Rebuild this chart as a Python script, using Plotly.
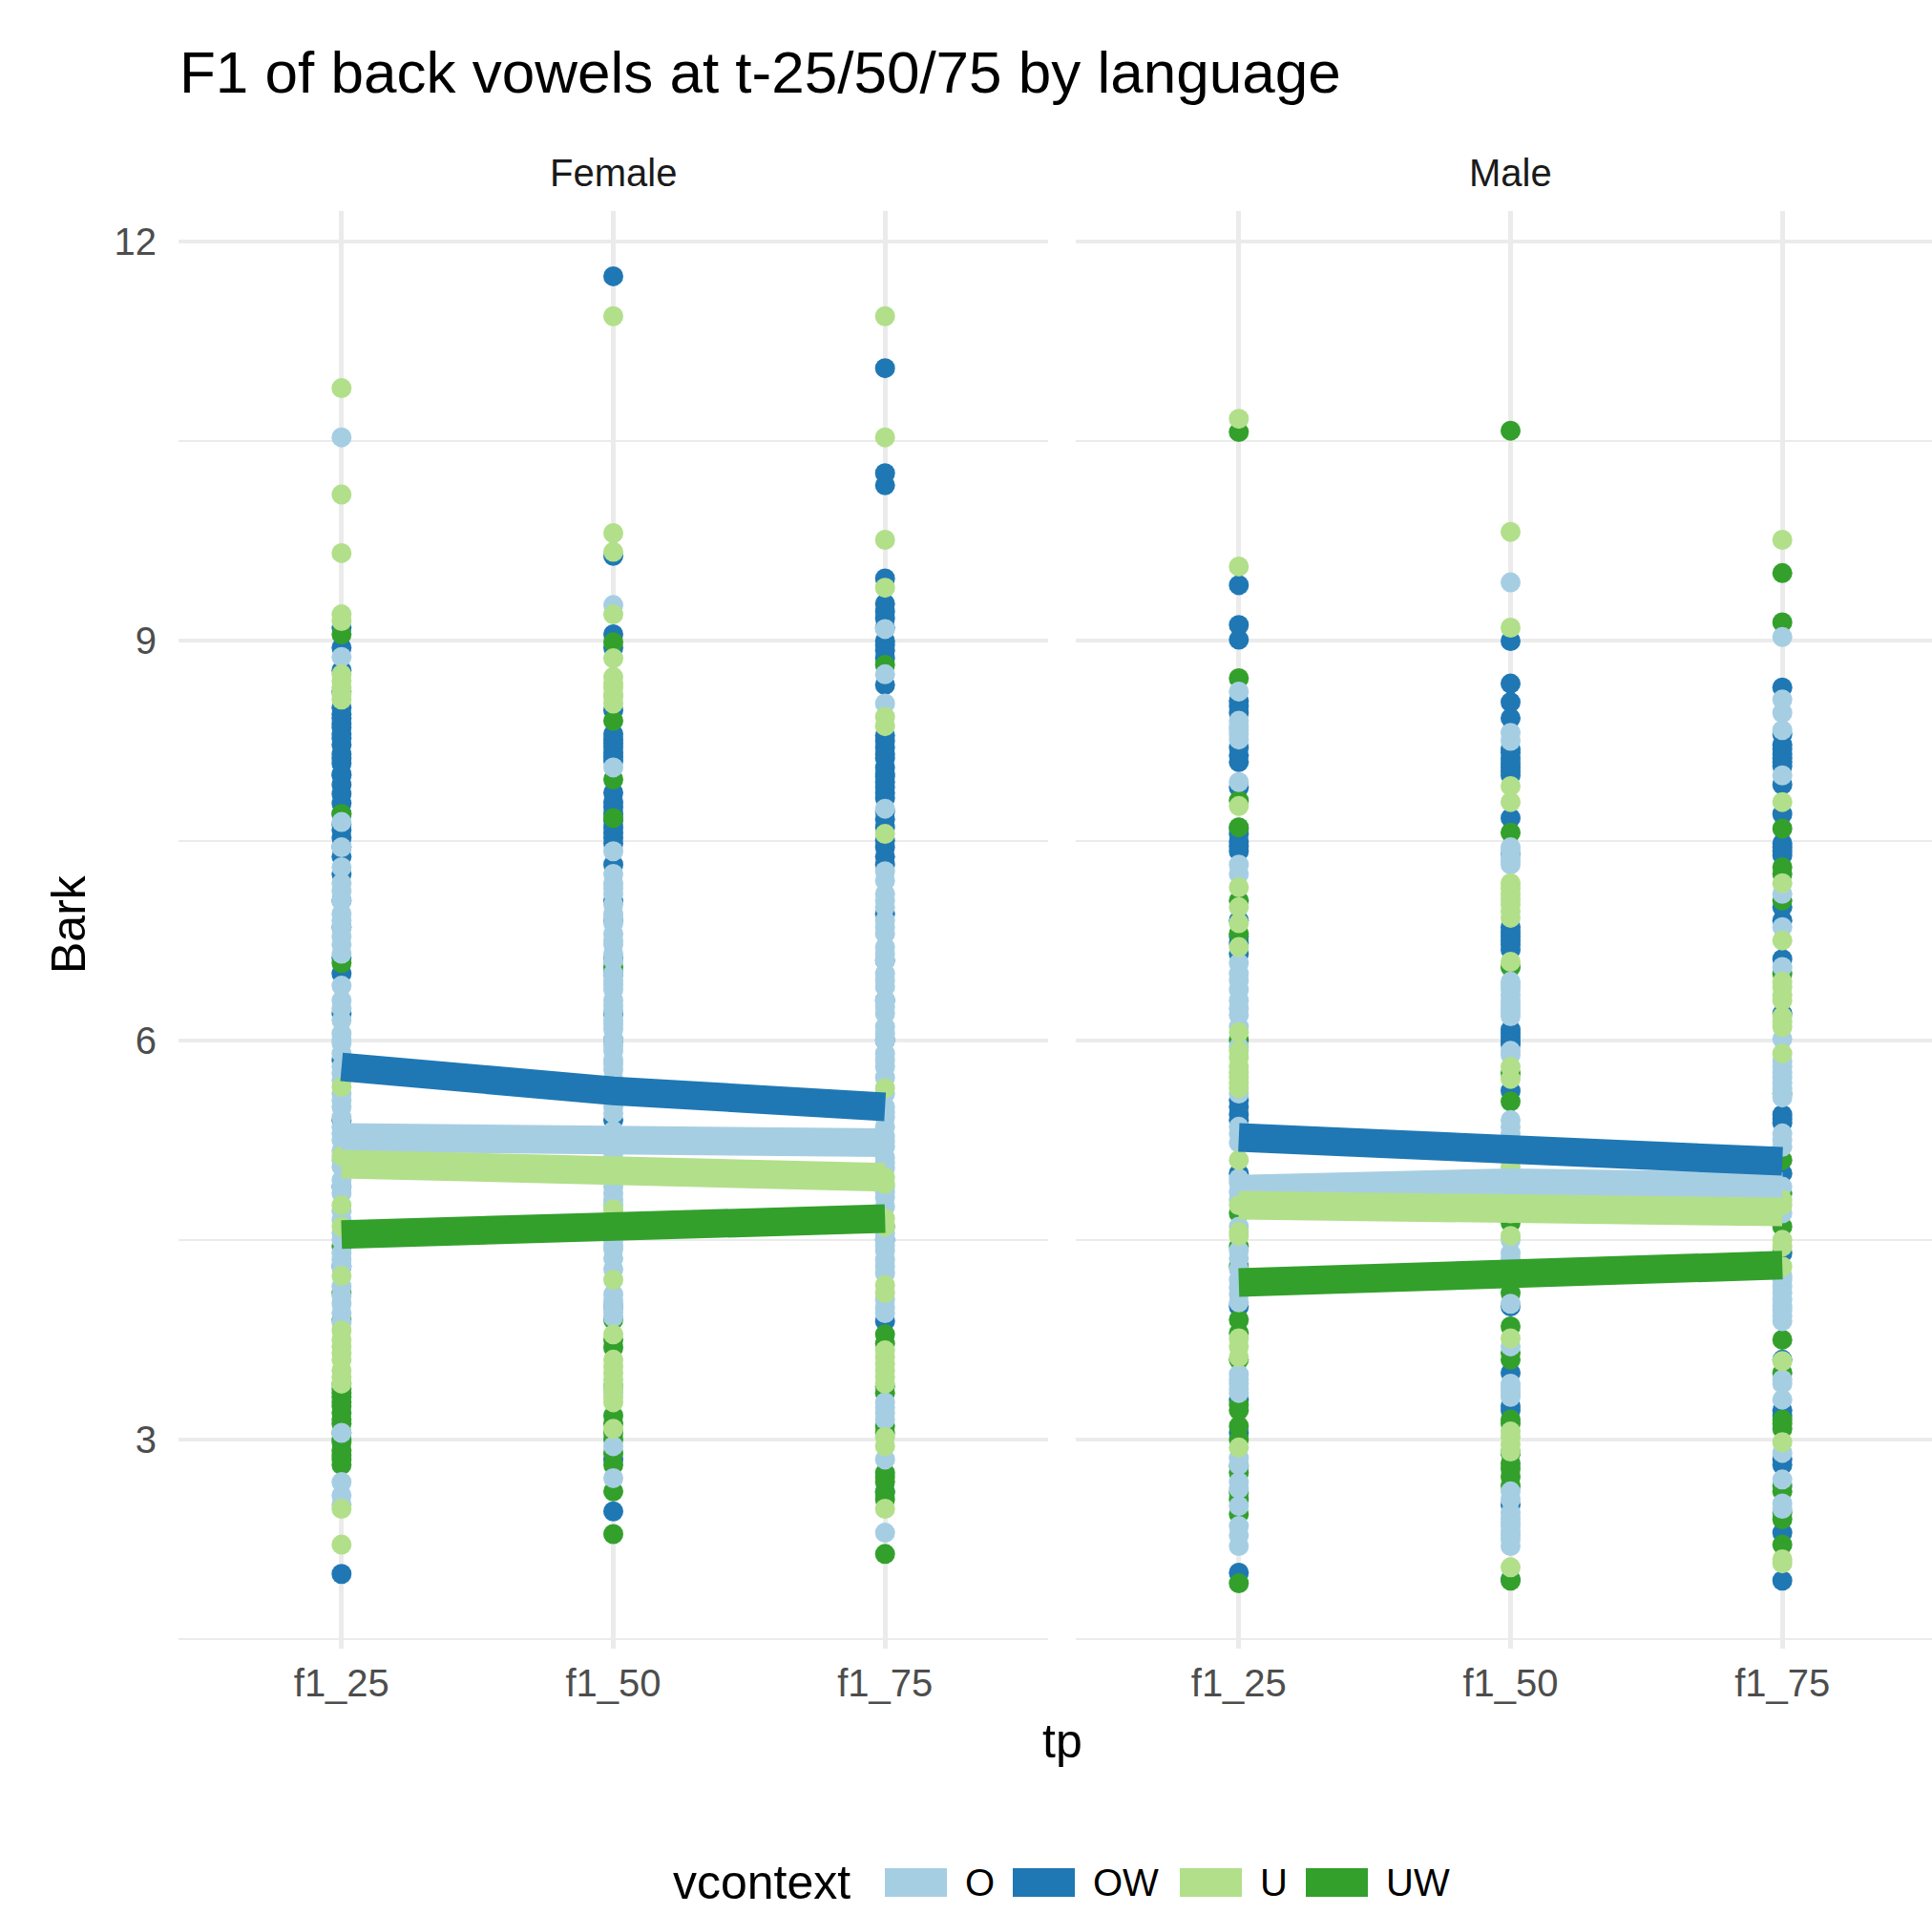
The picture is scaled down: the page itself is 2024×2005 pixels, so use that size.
import plotly.graph_objects as go

# ---------------- data ----------------
tp_labels = ["f1_25", "f1_50", "f1_75"]
vcontext_levels = ["O", "OW", "U", "UW"]
panel_names = ["Female", "Male"]
palette = ["#A6CEE3", "#1F78B4", "#B2DF8A", "#33A02C"]

# Female, f1_25
female_f1_25_O = [10.53, 8.88, 7.64, 7.45, 7.30, 7.18, 7.12, 7.05, 6.95, 6.90, 6.85, 6.78, 6.72, 6.65, 6.41, 6.30,
                  6.24, 6.15, 6.05, 6.00, 5.98, 5.90, 5.80, 5.75, 5.70, 5.60, 5.55, 5.50, 5.42, 5.35, 5.30, 5.25,
                  5.17, 5.10, 5.05, 4.95, 4.90, 4.85, 4.72, 4.65, 4.55, 4.50, 4.40, 4.35, 4.30, 4.15, 4.08, 4.02,
                  3.95, 3.88, 3.05, 2.68, 2.58, 2.51]
female_f1_25_OW = [1.99, 4.30, 4.90, 5.40, 5.85, 6.20, 6.50, 6.62, 6.85, 7.05, 7.25, 7.38, 7.45, 7.52, 7.58, 7.62,
                   7.70, 7.78, 7.85, 7.92, 7.99, 8.00, 8.08, 8.12, 8.15, 8.22, 8.27, 8.30, 8.35, 8.38, 8.42, 8.45,
                   8.50, 8.62, 8.78, 8.95, 9.10]
female_f1_25_U = [10.90, 10.10, 9.66, 9.20, 9.15, 8.75, 8.70, 8.65, 8.60, 8.56, 5.65, 5.13, 4.76, 4.60, 4.23, 3.82,
                  3.75, 3.70, 3.65, 3.60, 3.52, 3.47, 3.42, 2.48, 2.21]
female_f1_25_UW = [9.05, 7.70, 6.58, 4.45, 4.10, 3.90, 3.42, 3.38, 3.35, 3.32, 3.28, 3.25, 3.20, 3.15, 3.12, 3.05,
                   3.00, 2.98, 2.92, 2.88, 2.85, 2.81]

# Female, f1_50
female_f1_50_O = [9.27, 8.05, 7.42, 7.25, 7.18, 7.14, 7.10, 7.02, 6.95, 6.92, 6.88, 6.80, 6.75, 6.72, 6.65, 6.60,
                  6.50, 6.45, 6.42, 6.38, 6.30, 6.26, 6.22, 6.15, 6.12, 6.08, 6.00, 5.96, 5.92, 5.85, 5.82, 5.78,
                  5.70, 5.66, 5.62, 5.55, 5.50, 5.45, 5.32, 5.23, 5.15, 5.10, 5.05, 5.00, 4.95, 4.90, 4.85, 4.80,
                  4.76, 4.50, 4.46, 4.43, 4.36, 4.28, 4.09, 4.04, 4.00, 3.96, 3.92, 3.35, 2.95, 2.71]
female_f1_50_OW = [11.74, 9.64, 9.05, 8.95, 8.48, 8.30, 8.26, 8.23, 8.20, 8.16, 8.13, 8.10, 7.86, 7.79, 7.75, 7.70,
                   7.65, 7.60, 7.56, 7.52, 7.48, 7.32, 7.05, 6.90, 6.61, 6.50, 6.20, 6.00, 5.70, 5.40, 4.60, 4.00,
                   3.40, 2.85, 2.46]
female_f1_50_U = [11.44, 9.81, 9.67, 9.20, 8.87, 8.73, 8.68, 8.65, 8.60, 8.58, 8.53, 4.73, 4.20, 3.79, 3.60, 3.55,
                  3.50, 3.45, 3.40, 3.37, 3.32, 3.28, 3.08]
female_f1_50_UW = [8.99, 8.40, 7.96, 7.67, 6.55, 4.65, 4.55, 3.90, 3.75, 3.69, 3.18, 3.12, 3.05, 3.00, 2.90, 2.81,
                   2.61, 2.29]

# Female, f1_75
female_f1_75_O = [9.09, 8.75, 8.53, 7.74, 7.27, 7.20, 7.10, 7.05, 7.00, 6.90, 6.85, 6.80, 6.70, 6.65, 6.60, 6.50,
                  6.45, 6.40, 6.30, 6.25, 6.20, 6.10, 6.05, 6.00, 5.90, 5.85, 5.80, 5.72, 5.60, 5.50, 5.46, 5.42,
                  5.35, 5.28, 5.24, 5.20, 5.12, 5.08, 5.04, 4.90, 4.86, 4.82, 4.75, 4.55, 4.50, 4.46, 4.42, 4.35,
                  4.30, 4.25, 4.05, 3.99, 3.95, 3.28, 3.24, 3.20, 3.15, 2.85, 2.30]
female_f1_75_OW = [11.05, 10.26, 10.17, 9.47, 9.28, 9.22, 9.17, 9.10, 9.00, 8.97, 8.93, 8.87, 8.67, 8.29, 8.25, 8.20,
                   8.15, 8.12, 8.05, 8.00, 7.98, 7.94, 7.90, 7.86, 7.82, 7.72, 7.66, 7.60, 7.50, 7.45, 7.38, 7.32,
                   6.95, 6.60, 6.30, 6.00, 4.50, 3.89, 2.61]
female_f1_75_U = [11.44, 10.53, 9.76, 9.40, 8.43, 8.36, 7.55, 5.64, 4.97, 4.92, 4.66, 4.60, 4.16, 4.10, 3.67, 3.62,
                  3.57, 3.52, 3.47, 3.42, 3.02, 2.95, 2.48]
female_f1_75_UW = [8.82, 4.60, 3.79, 3.72, 3.40, 3.35, 3.10, 3.05, 2.75, 2.72, 2.68, 2.60, 2.55, 2.14]

# Male, f1_25
male_f1_25_O = [8.62, 8.40, 8.36, 8.33, 8.30, 8.26, 7.94, 7.32, 7.25, 6.58, 6.50, 6.45, 6.38, 6.30, 6.24, 6.19,
                6.10, 5.95, 5.60, 5.35, 5.30, 5.23, 4.96, 4.93, 4.86, 4.80, 4.60, 4.42, 4.36, 4.28, 4.20, 4.14,
                4.09, 4.03, 3.49, 3.45, 3.42, 3.38, 3.35, 2.86, 2.81, 2.68, 2.63, 2.50, 2.35, 2.28, 2.20]
male_f1_25_OW = [9.42, 9.12, 9.01, 8.55, 8.51, 8.46, 8.20, 8.14, 8.09, 7.90, 7.59, 7.55, 7.49, 7.46, 7.42, 6.90,
                 6.78, 6.73, 6.65, 5.55, 5.50, 5.44, 5.40, 5.00, 4.00, 3.30, 3.05, 2.00]
male_f1_25_U = [10.67, 9.56, 7.76, 7.15, 7.00, 6.88, 6.70, 6.06, 5.92, 5.87, 5.80, 5.76, 5.72, 5.68, 5.64, 5.10,
                4.76, 4.56, 4.53, 3.76, 3.70, 3.62, 2.94]
male_f1_25_UW = [10.57, 8.72, 7.80, 7.60, 7.05, 6.80, 6.00, 4.70, 4.45, 4.30, 3.90, 3.80, 3.60, 3.26, 3.22, 3.10,
                 3.00, 2.80, 2.75, 2.60, 2.55, 2.44, 1.92]

# Male, f1_50
male_f1_50_O = [9.44, 8.31, 8.25, 7.45, 7.42, 7.38, 7.35, 7.32, 6.44, 6.41, 6.38, 6.34, 6.30, 6.27, 6.24, 6.21,
                6.18, 5.92, 5.89, 5.40, 5.35, 5.30, 5.25, 5.15, 4.90, 4.50, 4.40, 4.36, 4.28, 4.02, 3.70, 3.42,
                3.40, 3.37, 3.34, 3.32, 2.61, 2.55, 2.45, 2.41, 2.38, 2.35, 2.31, 2.28, 2.25, 2.20]
male_f1_50_OW = [9.00, 8.68, 8.54, 8.42, 8.19, 8.16, 8.12, 8.08, 8.05, 8.02, 7.99, 7.67, 7.40, 6.85, 6.81, 6.78,
                 6.75, 6.72, 6.68, 6.08, 6.05, 6.02, 5.99, 5.97, 5.62, 5.20, 4.80, 4.20, 4.00, 3.50, 3.25, 3.22,
                 2.90, 2.51, 1.95]
male_f1_50_U = [9.82, 9.10, 7.91, 7.79, 7.18, 7.14, 7.10, 7.06, 7.02, 6.97, 6.92, 6.59, 5.80, 5.71, 5.10, 5.05,
                4.70, 4.53, 3.76, 3.06, 3.02, 2.96, 2.91, 2.04]
male_f1_50_UW = [10.58, 7.56, 6.55, 5.75, 5.54, 5.00, 4.75, 4.63, 4.10, 3.85, 3.65, 3.60, 3.15, 3.12, 2.90, 2.82,
                 2.78, 2.72, 2.65, 1.94]

# Male, f1_75
male_f1_75_O = [9.03, 8.56, 8.46, 8.33, 7.99, 7.10, 6.85, 6.55, 6.01, 5.84, 5.80, 5.76, 5.72, 5.68, 5.64, 5.60,
                5.57, 5.30, 5.25, 5.20, 4.90, 4.70, 4.23, 4.20, 4.15, 4.10, 4.05, 4.00, 3.97, 3.93, 3.89, 3.45,
                3.42, 3.30, 2.90, 2.70, 2.52, 2.48]
male_f1_75_OW = [8.65, 8.30, 8.22, 8.19, 8.15, 8.12, 8.09, 8.06, 7.92, 7.70, 7.48, 7.45, 7.42, 7.39, 7.00, 6.90,
                 6.61, 6.20, 5.44, 5.41, 5.38, 5.00, 4.40, 3.60, 3.22, 3.18, 2.85, 2.81, 2.30, 1.94]
male_f1_75_U = [9.76, 7.79, 7.18, 6.75, 6.44, 6.40, 6.34, 6.30, 6.18, 6.14, 6.10, 5.90, 4.80, 4.76, 4.50, 4.45,
                4.30, 3.59, 2.98, 2.10, 2.07]
male_f1_75_UW = [9.51, 9.14, 7.59, 7.30, 7.25, 7.05, 6.50, 5.60, 5.10, 4.85, 4.60, 3.75, 3.50, 3.15, 3.12, 3.08,
                 2.65, 2.61, 2.45, 2.40, 2.21]

# mean lines (Bark) per vcontext across f1_25 / f1_50 / f1_75
female_mean_O = [5.27, 5.25, 5.23]
female_mean_OW = [5.80, 5.62, 5.50]
female_mean_U = [5.07, 5.02, 4.97]
female_mean_UW = [4.54, 4.58, 4.66]
male_mean_O = [4.88, 4.93, 4.90]
male_mean_OW = [5.27, 5.20, 5.09]
male_mean_U = [4.76, 4.76, 4.71]
male_mean_UW = [4.18, 4.23, 4.31]

points = {
    "Female": {
        "f1_25": {"O": female_f1_25_O, "OW": female_f1_25_OW, "U": female_f1_25_U, "UW": female_f1_25_UW},
        "f1_50": {"O": female_f1_50_O, "OW": female_f1_50_OW, "U": female_f1_50_U, "UW": female_f1_50_UW},
        "f1_75": {"O": female_f1_75_O, "OW": female_f1_75_OW, "U": female_f1_75_U, "UW": female_f1_75_UW},
    },
    "Male": {
        "f1_25": {"O": male_f1_25_O, "OW": male_f1_25_OW, "U": male_f1_25_U, "UW": male_f1_25_UW},
        "f1_50": {"O": male_f1_50_O, "OW": male_f1_50_OW, "U": male_f1_50_U, "UW": male_f1_50_UW},
        "f1_75": {"O": male_f1_75_O, "OW": male_f1_75_OW, "U": male_f1_75_U, "UW": male_f1_75_UW},
    },
}
means = {
    "Female": {"O": female_mean_O, "OW": female_mean_OW, "U": female_mean_U, "UW": female_mean_UW},
    "Male": {"O": male_mean_O, "OW": male_mean_OW, "U": male_mean_U, "UW": male_mean_UW},
}
color_of = dict(zip(vcontext_levels, palette))

# ---------------- layout constants ----------------
W, H = 2024, 2005
ML, MR, MT, MB = 187, 0, 221, 278
PW, PH = W - ML - MR, H - MT - MB
FONT = "Liberation Sans, Arial, Helvetica, sans-serif"
GRID = "#EBEBEB"
TICKC = "#4D4D4D"
POINT_SIZE = 21
LINE_W = 30


def px2x(px):
    return (px - ML) / PW


def py2y(py):
    return (H - MB - py) / PH


fig = go.Figure()
axes = [("x", "y"), ("x2", "y2")]
draw_order = ["OW", "UW", "O", "U"]

for (xa, ya), panel in zip(axes, panel_names):
    for vc in draw_order:
        xs, ys = [], []
        for tp in tp_labels:
            vals = points[panel][tp][vc]
            xs += [tp] * len(vals)
            ys += vals
        fig.add_trace(go.Scatter(
            x=xs, y=ys, mode="markers", xaxis=xa, yaxis=ya, showlegend=False,
            name=vc, marker=dict(size=POINT_SIZE, color=color_of[vc], line=dict(width=0)),
            hoverinfo="skip"))
    for vc in vcontext_levels:
        fig.add_trace(go.Scatter(
            x=tp_labels, y=means[panel][vc], mode="lines", xaxis=xa, yaxis=ya, showlegend=False,
            name=vc, line=dict(width=LINE_W, color=color_of[vc]), hoverinfo="skip"))

all_vals = [v for p in points.values() for t in p.values() for g in t.values() for v in g]
ymin, ymax = min(all_vals), max(all_vals)
pad = 0.05 * (ymax - ymin)
yrange = [ymin - pad, ymax + pad]

xcommon = dict(type="category", categoryorder="array", categoryarray=tp_labels,
               showgrid=True, gridcolor=GRID, gridwidth=4.5, zeroline=False, showline=False,
               ticks="", tickfont=dict(family=FONT, size=40, color=TICKC), automargin=False,
               ticklabelstandoff=9)
ycommon = dict(range=yrange, tickvals=[3, 6, 9, 12], showgrid=True, gridcolor=GRID, gridwidth=4,
               zeroline=False, showline=False, ticks="", automargin=False,
               minor=dict(tickvals=[1.5, 4.5, 7.5, 10.5], showgrid=True, gridcolor=GRID, gridwidth=2),
               tickfont=dict(family=FONT, size=40, color=TICKC))

# x positions: category spacing identical in both panels
f_left, f_right = 187, 1098
m_left = 1127
unit = (f_right - f_left) / 3.2
male_hi = -0.6 + (W - m_left) / unit

fig.update_layout(
    width=W, height=H,
    paper_bgcolor="white", plot_bgcolor="white",
    margin=dict(l=ML, r=MR, t=MT, b=MB, autoexpand=False),
    showlegend=False,
    title=dict(text="F1 of back vowels at t-25/50/75 by language",
               font=dict(family=FONT, size=62, color="black"),
               x=188 / W, xanchor="left", xref="container",
               y=1 - 75 / H, yanchor="middle", yref="container"),
    xaxis=dict(domain=[0, px2x(f_right)], range=[-0.6, 2.6], anchor="y", **xcommon),
    xaxis2=dict(domain=[px2x(m_left), 1], range=[-0.6, male_hi], anchor="y2", **xcommon),
    yaxis=dict(domain=[0, 1], anchor="x", ticklabelstandoff=22, **ycommon),
    yaxis2=dict(domain=[0, 1], anchor="x2", matches="y", showticklabels=False, **ycommon),
)

ann = []
# strip labels
for xr, panel in zip(["x", "x2"], panel_names):
    ann.append(dict(text=panel, x="f1_50", xref=xr, y=py2y(181), yref="paper",
                    xanchor="center", yanchor="middle", showarrow=False,
                    font=dict(family=FONT, size=40, color="#1A1A1A")))
# axis titles
ann.append(dict(text="tp", x=px2x(1113), xref="paper", y=py2y(1824), yref="paper",
                xanchor="center", yanchor="middle", showarrow=False,
                font=dict(family=FONT, size=50, color="black")))
ann.append(dict(text="Bark", x=px2x(72), xref="paper", y=py2y(968), yref="paper",
                xanchor="center", yanchor="middle", showarrow=False, textangle=-90,
                font=dict(family=FONT, size=50, color="black")))

# legend (drawn manually, ggplot-style bottom legend)
legend_cy = 1972
ann.append(dict(text="vcontext", x=px2x(703), xref="paper", y=py2y(legend_cy), yref="paper",
                xanchor="left", yanchor="middle", showarrow=False,
                font=dict(family=FONT, size=50, color="black")))
key_left = [927, 1061, 1236, 1368]
label_left = [1009, 1143, 1318, 1450]
shapes = []
for vc, kx, lx in zip(vcontext_levels, key_left, label_left):
    shapes.append(dict(type="rect", xref="paper", yref="paper",
                       x0=px2x(kx), x1=px2x(kx + 65), y0=py2y(legend_cy - 15), y1=py2y(legend_cy + 15),
                       fillcolor=color_of[vc], line=dict(width=0), layer="above"))
    ann.append(dict(text=vc, x=px2x(lx), xref="paper", y=py2y(legend_cy), yref="paper",
                    xanchor="left", yanchor="middle", showarrow=False,
                    font=dict(family=FONT, size=40, color="black")))

fig.update_layout(annotations=ann, shapes=shapes)
fig.write_html("out.html", config={"displayModeBar": False},
               post_script="document.body.style.margin='0';")
